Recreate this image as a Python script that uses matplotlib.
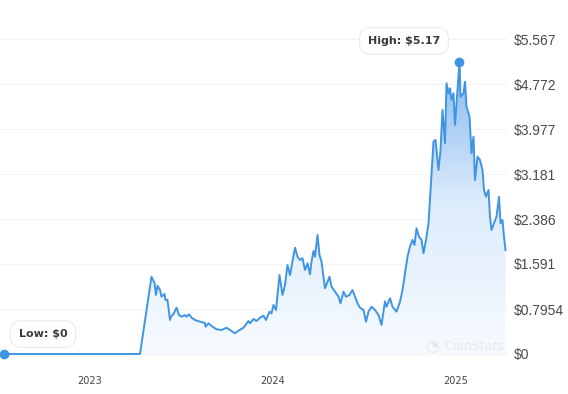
import numpy as np
import pandas as pd
import matplotlib
matplotlib.use("Agg")
import matplotlib.pyplot as plt
from matplotlib.colors import LinearSegmentedColormap

# days since 2023-01-01 and price in USD
days = [-172, 100, 123, 129, 132, 135, 140, 143, 149, 151, 155, 160, 162, 167, 173,
        178, 183, 189, 193, 198, 203, 210, 220, 230, 231, 237, 243, 253, 263, 273,
        280, 290, 297, 307, 317, 320, 327, 333, 340, 347, 352, 359, 363, 367, 372,
        379, 385, 390, 395, 400, 403, 410, 415, 420, 425, 430, 435, 440, 443, 447,
        450, 455, 459, 463, 470, 479, 483, 490, 497, 501, 507, 512, 519, 525, 530,
        535, 540, 547, 552, 557, 563, 570, 577, 583, 590, 593, 600, 605, 613, 620,
        625, 630, 635, 640, 645, 649, 653, 658, 663, 667, 672, 677, 682, 687, 691,
        693, 697, 701, 705, 710, 713, 717, 720, 723, 727, 730, 733, 739, 741, 747,
        750, 753, 759, 763, 767, 770, 775, 780, 785, 788, 792, 797, 800, 803, 808,
        813, 818, 821, 825, 828, 831]
price = [0, 0, 1.366, 1.255, 1.043, 1.207, 1.131, 1.013, 1.061, 0.955, 0.955, 0.601,
         0.659, 0.707, 0.818, 0.689, 0.659, 0.689, 0.659, 0.702, 0.642, 0.601, 0.571,
         0.548, 0.483, 0.543, 0.495, 0.437, 0.424, 0.465, 0.424, 0.366, 0.412, 0.465,
         0.583, 0.543, 0.619, 0.583, 0.642, 0.677, 0.601, 0.748, 0.719, 0.866, 0.778,
         1.396, 1.043, 1.220, 1.573, 1.396, 1.543, 1.879, 1.720, 1.662, 1.692, 1.485,
         1.603, 1.409, 1.631, 1.821, 1.720, 2.103, 1.750, 1.631, 1.161, 1.366, 1.190,
         1.101, 1.013, 0.896, 1.101, 1.013, 1.043, 1.131, 1.013, 0.896, 0.818, 0.778,
         0.571, 0.748, 0.836, 0.778, 0.689, 0.513, 0.930, 0.836, 0.985, 0.836, 0.748,
         0.924, 1.131, 1.426, 1.720, 1.897, 2.015, 1.927, 2.222, 2.073, 2.015, 1.780,
         2.015, 2.310, 3.017, 3.753, 3.783, 3.606, 3.252, 3.606, 4.313, 3.724, 4.785,
         4.608, 4.697, 4.490, 4.608, 4.048, 4.431, 5.170, 4.548, 4.608, 4.813, 4.371,
         4.195, 3.548, 3.841, 3.076, 3.488, 3.429, 3.252, 2.899, 2.781, 2.899, 2.427,
         2.192, 2.310, 2.427, 2.781, 2.310, 2.369, 2.073, 1.838]

y_ticks = [0, 0.7954, 1.591, 2.386, 3.181, 3.977, 4.772, 5.567]
y_labels = ["$0", "$0.7954", "$1.591", "$2.386", "$3.181", "$3.977", "$4.772", "$5.567"]
year_ticks = ["2023-01-01", "2024-01-01", "2025-01-01"]
year_labels = ["2023", "2024", "2025"]

base = pd.Timestamp("2023-01-01")
dates = base + pd.to_timedelta(days, unit="D")
x = matplotlib.dates.date2num(dates.to_pydatetime())
y = np.array(price)

fig = plt.figure(figsize=(5.68, 3.94), dpi=100)
ax = fig.add_axes([0.0, 29 / 394, 507 / 568, 355 / 394])

k = 0.7954 / 45
ax.set_ylim(-11 * k, 344 * k)
ax.set_xlim(matplotlib.dates.date2num(base + pd.Timedelta(days=-180)),
            matplotlib.dates.date2num(base + pd.Timedelta(days=834)))

# gradient fill under the line
cmap = LinearSegmentedColormap.from_list("fade", ["#f7fbff", "#dcebfb", "#7db5ee"])
poly = ax.fill_between(x, y, 0, color="none", lw=0)
grad = np.linspace(0, 1, 256).reshape(-1, 1)
img = ax.imshow(grad, cmap=cmap, aspect="auto", origin="lower",
                extent=[x.min(), x.max(), 0, 5.4], zorder=1)
img.set_clip_path(poly.get_paths()[0], transform=ax.transData)

ax.plot(x, y, color="#3f95e4", lw=1.4, zorder=3, solid_joinstyle="round")

# high and low dots
imax = int(np.argmax(y))
ax.plot(x[imax], y[imax], "o", color="#3f95e4", ms=6, zorder=4)
ax.plot(x[0], y[0], "o", color="#3f95e4", ms=6, zorder=4, clip_on=False)

for t in y_ticks:
    ax.axhline(t, color="#f3f3f3", lw=0.8, zorder=0)

ax.yaxis.tick_right()
ax.set_yticks(y_ticks)
ax.set_yticklabels(y_labels, fontsize=10, color="#4a4a4a", family="Liberation Sans")
ax.set_xticks([matplotlib.dates.date2num(pd.Timestamp(d)) for d in year_ticks])
ax.set_xticklabels(year_labels, fontsize=7, color="#444444")
ax.tick_params(length=0, axis="y", pad=5)
ax.tick_params(length=0, axis="x", pad=8)
for s in ax.spines.values():
    s.set_visible(False)

box = dict(boxstyle="round,pad=0.75,rounding_size=1.0", fc="white", ec="#ececec", lw=0.8)
fig.text(43 / 568, 1 - 334 / 394, f"Low: ${min(price):g}", ha="center", va="center",
         fontsize=8, fontweight="bold", color="#3a3a3a", bbox=box)
fig.text(404 / 568, 1 - 41 / 394, f"High: ${max(price):g}", ha="center", va="center",
         fontsize=8, fontweight="bold", color="#3a3a3a", bbox=box)

# watermark
fig.text(432 / 568, 1 - 347 / 394, "\u25D4", ha="center", va="center", fontsize=11,
         color="#e6e6e6")
fig.text(444 / 568, 1 - 346 / 394, "CoinStats", ha="left", va="center", fontsize=9,
         color="#e8e8e8")

fig.savefig("out.png", dpi=100)
